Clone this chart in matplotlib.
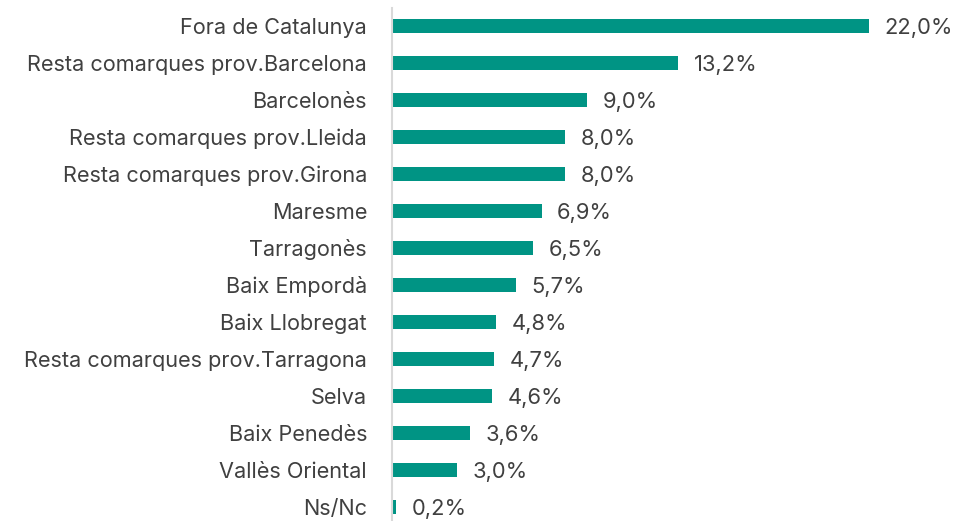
import matplotlib
matplotlib.use("Agg")
import matplotlib.pyplot as plt

categories = [
    "Fora de Catalunya",
    "Resta comarques prov.Barcelona",
    "Barcelonès",
    "Resta comarques prov.Lleida",
    "Resta comarques prov.Girona",
    "Maresme",
    "Tarragonès",
    "Baix Empordà",
    "Baix Llobregat",
    "Resta comarques prov.Tarragona",
    "Selva",
    "Baix Penedès",
    "Vallès Oriental",
    "Ns/Nc",
]
values = [22.0, 13.2, 9.0, 8.0, 8.0, 6.9, 6.5, 5.7, 4.8, 4.7, 4.6, 3.6, 3.0, 0.2]

BAR_COLOR = "#009484"
TEXT_COLOR = "#404040"

plt.rcParams["font.family"] = ["Inter", "DejaVu Sans"]

fig = plt.figure(figsize=(9.55, 5.21), dpi=100)
ax = fig.add_axes([0.4105, -0.0086, 0.5675, 0.9942])

y = list(range(len(categories)))
ax.barh(y, values, height=0.38, color=BAR_COLOR)
ax.set_ylim(len(categories) - 0.5, -0.5)
ax.set_xlim(0, 25)

ax.set_yticks(y)
ax.set_yticklabels(categories, fontsize=15.6, color=TEXT_COLOR)
ax.tick_params(axis="y", length=0, pad=18)
ax.set_xticks([])

for yi, v in zip(y, values):
    ax.text(v + 0.72, yi + 0.05, f"{v:.1f}%".replace(".", ","), va="center", ha="left",
            fontsize=15.8, color=TEXT_COLOR)

for s in ["top", "right", "bottom"]:
    ax.spines[s].set_visible(False)
ax.spines["left"].set_color("#d9d9d9")
ax.spines["left"].set_linewidth(1.5)

fig.savefig("out.png", dpi=100)
